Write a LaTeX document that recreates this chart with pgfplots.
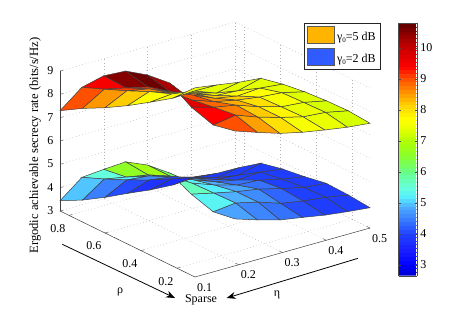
\documentclass[border=0pt]{standalone}
\usepackage{pgfplots}
\usepackage{fontspec}
\setmainfont{Liberation Serif}
\pgfplotsset{compat=1.18}
\usetikzlibrary{arrows.meta}
\pgfplotsset{colormap={paper}{rgb255(0pt)=(0,0,200); rgb255(35pt)=(0,0,255); rgb255(85pt)=(26,32,255); rgb255(135pt)=(32,64,255); rgb255(185pt)=(58,128,255); rgb255(225pt)=(79,176,255); rgb255(255pt)=(85,238,255); rgb255(285pt)=(102,255,221); rgb255(335pt)=(102,255,136); rgb255(385pt)=(136,255,48); rgb255(435pt)=(176,255,0); rgb255(485pt)=(240,255,0); rgb255(505pt)=(255,255,0); rgb255(555pt)=(255,204,0); rgb255(595pt)=(255,144,0); rgb255(635pt)=(255,80,0); rgb255(675pt)=(255,0,0); rgb255(735pt)=(200,0,0); rgb255(815pt)=(96,0,0)}}
\newcommand{\fs}{\fontsize{12}{14}\selectfont}
\begin{document}
\begin{tikzpicture}
\path[use as bounding box] (0,0) rectangle (457pt,311pt);
\begin{axis}[
  at={(60pt,34pt)}, anchor=south west,
  x={(437.5pt,122.5pt)}, y={(-180pt,88pt)}, z={(0pt,23.33pt)},
  xmin=0.1, xmax=0.5, ymin=0.1, ymax=0.85, zmin=3, zmax=9,
  clip=false,
  xtick={0.1,0.2,0.3,0.4,0.5}, ytick={0.2,0.4,0.6,0.8}, ztick={3,4,5,6,7,8,9},
  tick pos=left,
  grid=major, grid style={line width=0.45pt, gray!60, dash pattern=on 0.7pt off 2.6pt},
  axis line style={draw=none},
  tick style={draw=none}, tick align=inside, major tick length=3pt,
  tick label style={font=\fs},
  /pgf/number format/assume math mode=true,
  /pgf/number format/fixed, /pgf/number format/fixed zerofill, /pgf/number format/precision=1,
  x tick label style={xshift=4pt, yshift=-1pt},
  y tick label style={xshift=-4pt, yshift=-3.5pt},
  z tick label style={xshift=-3pt, /pgf/number format/precision=0, /pgf/number format/fixed zerofill=false},
  xlabel={η}, ylabel={ρ}, zlabel={Ergodic achievable secrecy rate (bits/s/Hz)},
  label style={font=\fs},
  xlabel style={at={(axis cs:0.3,0.1,3)}, anchor=center, xshift=-5.5pt, yshift=-42.5pt},
  ylabel style={at={(axis cs:0.1,0.5,3)}, anchor=center, xshift=-3pt, yshift=-50pt},
  zlabel style={at={(axis cs:0.1,0.85,5.8)}, anchor=center, yshift=25pt, font=\fontsize{12.6}{14}\selectfont},
  colormap name=paper, point meta min=2.65, point meta max=10.8,
  colorbar sampled,
  colorbar style={samples=66, at={(parent axis.south west)}, anchor=south west,
    xshift=330pt, yshift=1.3pt, width=18.2pt, height=252.7pt,
    ytick={3,4,5,6,7,8,9,10}, tick label style={font=\fs},
    /pgf/number format/assume math mode=true,
    /pgf/number format/precision=0, /pgf/number format/fixed zerofill=false,
    axis line style={draw=black!70}, tick style={draw=black!70}, major tick length=2pt},
  legend style={at={(0.787,0.998)}, anchor=north west, draw=black!85, line width=0.9pt,
    font=\fs, row sep=3.5pt, inner xsep=3pt, inner ysep=3pt},
  legend cell align=left,
]
\draw[black!75, line width=0.5pt] (axis cs:0.1,0.85,3) -- (axis cs:0.1,0.1,3) -- (axis cs:0.5,0.1,3);
\draw[black!75, line width=0.5pt] (axis cs:0.1,0.85,3) -- (axis cs:0.1,0.85,9);
\pgfplotsinvokeforeach{0.2,0.3,0.4,0.5}{\draw[black!70, line width=0.4pt] (axis cs:#1,0.1,3) -- (axis cs:#1,0.117,3);}
\pgfplotsinvokeforeach{0.2,0.4,0.6,0.8}{\draw[black!70, line width=0.4pt] (axis cs:0.1,#1,3) -- (axis cs:0.107,#1,3);}
\pgfplotsinvokeforeach{3,4,5,6,7,8,9}{\draw[black!70, line width=0.4pt] (axis cs:0.1,0.85,#1) -- (axis cs:0.107,0.85,#1);}
% lower surface, gamma0 = 2 dB
\addplot3[surf, shader=flat corner, draw=black!75, line width=0.5pt, z buffer=none, mesh/rows=9, mesh/cols=7, point meta=\thisrow{c}, forget plot] table {
x y z c
0.50 0.850 0.56 4.8
0.50 0.725 0.99 4.55
0.50 0.600 1.46 4.4
0.50 0.475 2.04 4.1
0.50 0.350 2.61 3.95
0.50 0.225 3.23 3.95
0.50 0.100 3.87 3.95
0.45 0.850 1.13 5.3
0.45 0.725 1.98 4.9
0.45 0.600 2.49 4.6
0.45 0.475 2.91 4.3
0.45 0.350 3.48 4.0
0.45 0.225 4.11 3.95
0.45 0.100 4.68 3.95
0.40 0.850 2.15 5.7
0.40 0.725 2.67 5.2
0.40 0.600 3.20 4.8
0.40 0.475 3.78 4.4
0.40 0.350 4.28 4.0
0.40 0.225 4.80 3.95
0.40 0.100 5.44 3.95
0.35 0.850 3.32 6.2
0.35 0.725 3.36 5.3
0.35 0.600 3.75 4.9
0.35 0.475 4.22 4.4
0.35 0.350 4.90 4.0
0.35 0.225 5.42 3.95
0.35 0.100 5.99 3.95
0.30 0.850 3.92 6.8
0.30 0.725 3.92 5.3
0.30 0.600 4.24 4.9
0.30 0.475 4.62 4.4
0.30 0.350 5.17 4.0
0.30 0.225 5.98 3.95
0.30 0.100 6.58 3.95
0.25 0.850 4.32 6.6
0.25 0.725 4.23 5.3
0.25 0.600 4.63 4.8
0.25 0.475 5.04 4.3
0.25 0.350 5.45 4.0
0.25 0.225 6.11 3.95
0.25 0.100 7.09 3.95
0.20 0.850 4.26 5.5
0.20 0.725 4.40 5.2
0.20 0.600 4.92 4.6
0.20 0.475 5.35 4.1
0.20 0.350 5.81 3.9
0.20 0.225 6.26 3.9
0.20 0.100 7.16 3.9
0.15 0.850 4.18 5.0
0.15 0.725 4.58 4.5
0.15 0.600 5.01 4.1
0.15 0.475 5.48 3.8
0.15 0.350 6.00 3.7
0.15 0.225 6.53 3.7
0.15 0.100 7.18 3.7
0.10 0.850 3.44 5.0
0.10 0.725 3.94 4.5
0.10 0.600 4.53 4.1
0.10 0.475 5.17 3.8
0.10 0.350 5.79 3.7
0.10 0.225 6.47 3.7
0.10 0.100 7.30 3.7
};
% upper surface, gamma0 = 5 dB
\addplot3[surf, shader=flat corner, draw=black!75, line width=0.5pt, z buffer=none, mesh/rows=9, mesh/cols=7, point meta=\thisrow{c}, forget plot] table {
x y z c
0.50 0.850 4.33 9.0
0.50 0.725 4.74 8.5
0.50 0.600 5.17 8.0
0.50 0.475 5.69 7.6
0.50 0.350 6.26 7.45
0.50 0.225 6.85 7.3
0.50 0.100 7.49 7.3
0.45 0.850 4.85 9.4
0.45 0.725 5.75 8.7
0.45 0.600 6.13 8.2
0.45 0.475 6.59 7.8
0.45 0.350 7.09 7.45
0.45 0.225 7.75 7.3
0.45 0.100 8.29 7.3
0.40 0.850 5.88 9.7
0.40 0.725 6.35 8.85
0.40 0.600 6.91 8.4
0.40 0.475 7.31 8.0
0.40 0.350 7.78 7.6
0.40 0.225 8.44 7.35
0.40 0.100 8.98 7.35
0.35 0.850 7.18 10.2
0.35 0.725 6.92 9.0
0.35 0.600 7.32 8.6
0.35 0.475 7.86 8.2
0.35 0.350 8.46 7.7
0.35 0.225 9.12 7.4
0.35 0.100 9.63 7.4
0.30 0.850 7.78 10.7
0.30 0.725 7.54 9.1
0.30 0.600 7.87 8.7
0.30 0.475 8.20 8.2
0.30 0.350 8.77 7.7
0.30 0.225 9.58 7.4
0.30 0.100 10.22 7.4
0.25 0.850 8.21 10.5
0.25 0.725 8.00 9.1
0.25 0.600 8.26 8.7
0.25 0.475 8.66 8.2
0.25 0.350 9.05 7.7
0.25 0.225 9.73 7.4
0.25 0.100 10.73 7.4
0.20 0.850 8.27 9.5
0.20 0.725 8.22 9.1
0.20 0.600 8.65 8.6
0.20 0.475 8.96 8.1
0.20 0.350 9.44 7.7
0.20 0.225 9.89 7.4
0.20 0.100 10.82 7.4
0.15 0.850 8.04 9.0
0.15 0.725 8.43 8.55
0.15 0.600 8.83 8.2
0.15 0.475 9.27 7.7
0.15 0.350 9.64 7.6
0.15 0.225 10.24 7.5
0.15 0.100 10.97 7.5
0.10 0.850 7.30 9.0
0.10 0.725 7.87 8.55
0.10 0.600 8.37 8.2
0.10 0.475 8.93 7.7
0.10 0.350 9.55 7.6
0.10 0.225 10.19 7.5
0.10 0.100 11.11 7.5
};
\addlegendimage{legend image code/.code={\draw[black!65, line width=0.7pt, fill={rgb,255:red,255;green,180;blue,0}] (0pt,-6pt) rectangle (27pt,11pt);}}
\addlegendentry{γ\raisebox{-0.4ex}{\scriptsize 0}=5 dB}
\addlegendimage{legend image code/.code={\draw[black!65, line width=0.7pt, fill={rgb,255:red,48;green,92;blue,255}] (0pt,-6pt) rectangle (27pt,11pt);}}
\addlegendentry{γ\raisebox{-0.4ex}{\scriptsize 0}=2 dB}
\end{axis}
\draw[black, line width=0.8pt, -{Stealth[length=9pt,width=7pt]}] (62.3pt,66.7pt) -- (175pt,13pt);
\draw[black, line width=0.8pt, -{Stealth[length=9pt,width=7pt]}] (358pt,52.7pt) -- (226.7pt,13pt);
\node[font=\fs] at (201pt,11pt) {Sparse};
\end{tikzpicture}
\end{document}
